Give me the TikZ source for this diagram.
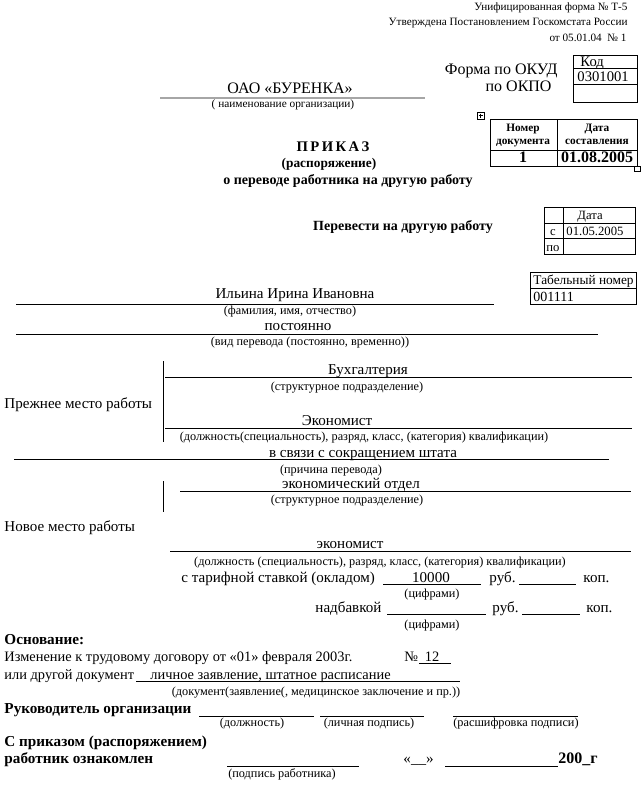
\documentclass[tikz,border=0pt]{standalone}
\usepackage{fontspec}
\setmainfont{Liberation Serif}

\begin{document}
\begin{tikzpicture}[x=0.75pt, y=-0.75pt, line width=0.7pt,
	every node/.style={inner sep=0pt},
	txt/.style={font=\fontsize{11.3}{13}\selectfont},
	capt/.style={font=\fontsize{9.2}{11}\selectfont},
	hdr/.style={font=\fontsize{8.4}{10}\selectfont, anchor=base east},
	bld/.style={font=\bfseries\fontsize{11.4}{13}\selectfont},
	tbl/.style={font=\fontsize{9.5}{11}\selectfont}]

		\useasboundingbox (0,0) rectangle (640,785);

		% top right
		\node[hdr] (form) at (628,11) {Унифицированная форма № Т-5};
		\node[hdr] (appr) at (628,25) {Утверждена Постановлением Госкомстата России};
		\node[hdr] (appr2) at (627,41) {от 05.01.04 \ № 1};

		\node[txt, font=\fontsize{12}{14}\selectfont, anchor=base east] (okud) at (558,74) {Форма по ОКУД};
		\node[txt, font=\fontsize{12}{14}\selectfont, anchor=base east] (okpo) at (552,91) {по ОКПО};
		\draw (573,55) rectangle (637,102);
		\draw (573,68) -- (637,68);
		\draw (573,84) -- (637,84);
		\node[txt, font=\fontsize{11}{13}\selectfont, anchor=base west] (kod) at (580,66) {Код};
		\node[txt, font=\fontsize{11}{13}\selectfont, anchor=base west] (kodVal) at (577,81) {0301001};

		\node[txt, font=\fontsize{12}{14}\selectfont, anchor=base] (org) at (290,93) {ОАО «БУРЕНКА»};
		\draw[gray!70, line width=1.2pt] (160,98) -- (425,98);
		\node[capt, font=\fontsize{8.5}{10}\selectfont, anchor=base] (orgCap) at (283,107) {( наименование организации)};

		% document number table
		\draw[line width=0.5pt] (477,112) rectangle (484,119);
		\draw[line width=0.4pt] (480.5,113.5) -- (480.5,117.5) (478.5,115.5) -- (482.5,115.5);
		\draw (490,119) rectangle (637,166);
		\draw (557,119) -- (557,166);
		\draw (490,150) -- (637,150);
		\draw[line width=0.5pt] (634,166) rectangle (640,171);
		\node[bld, font=\bfseries\fontsize{8.5}{10}\selectfont, anchor=base] (numA) at (523,131) {Номер};
		\node[bld, font=\bfseries\fontsize{8.5}{10}\selectfont, anchor=base] (numB) at (523,144) {документа};
		\node[bld, font=\bfseries\fontsize{8.5}{10}\selectfont, anchor=base] (datA) at (597,131) {Дата};
		\node[bld, font=\bfseries\fontsize{8.5}{10}\selectfont, anchor=base] (datB) at (597,144) {составления};
		\node[bld, font=\bfseries\fontsize{12}{14}\selectfont, anchor=base] (numVal) at (523,162) {1};
		\node[bld, font=\bfseries\fontsize{12}{14}\selectfont, anchor=base] (datVal) at (597,162) {01.08.2005};

		\node[bld, font=\bfseries\fontsize{11}{13}\selectfont, anchor=base] (prikaz) at (333,151) {П\,Р\,И\,К\,А\,З};
		\node[bld, font=\bfseries\fontsize{10}{12}\selectfont, anchor=base] (rasp) at (329,167) {(распоряжение)};
		\node[bld, font=\bfseries\fontsize{10.5}{12}\selectfont, anchor=base] (title) at (348,184) {о переводе работника на другую работу};

		\node[bld, font=\bfseries\fontsize{10.5}{12}\selectfont, anchor=base] (perev) at (403,230) {Перевести на другую работу};

		% dates
		\draw (544,207) rectangle (635,254);
		\draw (563,207) -- (563,254);
		\draw (544,223) -- (635,223);
		\draw (544,238) -- (635,238);
		\node[tbl, anchor=base west] (dHead) at (577,219) {Дата};
		\node[tbl, anchor=base] (dFrom) at (553,235) {с};
		\node[tbl, anchor=base west] (dFromVal) at (566,235) {01.05.2005};
		\node[tbl, anchor=base] (dTo) at (553,251) {по};

		\draw (530,272) rectangle (636,304);
		\draw (530,288) -- (636,288);
		\node[txt, font=\fontsize{10}{12}\selectfont, anchor=base west] (tab) at (533,284) {Табельный номер};
		\node[txt, font=\fontsize{10.5}{12}\selectfont, anchor=base west] (tabVal) at (533,301) {001111};

		% employee
		\node[txt, anchor=base] (fio) at (295,298) {Ильина Ирина Ивановна};
		\draw (16,304) -- (494,304);
		\node[capt, anchor=base] (fioCap) at (290,314) {(фамилия, имя, отчество)};

		\node[txt, anchor=base] (kind) at (298,330) {постоянно};
		\draw (16,334) -- (598,334);
		\node[capt, anchor=base] (kindCap) at (310,345) {(вид перевода (постоянно, временно))};

		% old place
		\draw (163,361) -- (163,442);
		\node[txt, anchor=base west] (oldPlace) at (4,408) {Прежнее место работы};
		\node[txt, anchor=base] (oldDep) at (368,374) {Бухгалтерия};
		\draw (165,377) -- (632,377);
		\node[capt, anchor=base] (oldDepCap) at (347,390) {(структурное подразделение)};
		\node[txt, anchor=base] (oldPos) at (337,425) {Экономист};
		\draw (165,428) -- (632,428);
		\node[capt, anchor=base] (oldPosCap) at (364,440) {(должность(специальность), разряд, класс, (категория) квалификации)};

		\node[txt, anchor=base] (reason) at (363,457) {в связи с сокращением штата};
		\draw (14,459) -- (609,459);
		\node[capt, anchor=base] (reasonCap) at (331,473) {(причина перевода)};

		% new place
		\draw (163,481) -- (163,512);
		\node[txt, anchor=base] (newDep) at (351,488) {экономический отдел};
		\draw (180,491) -- (631,491);
		\node[capt, anchor=base] (newDepCap) at (347,503) {(структурное подразделение)};
		\node[txt, anchor=base west] (newPlace) at (4,531) {Новое место работы};
		\node[txt, anchor=base] (newPos) at (350,548) {экономист};
		\draw (170,551) -- (631,551);
		\node[capt, anchor=base] (newPosCap) at (380,565) {(должность (специальность), разряд, класс, (категория) квалификации)};

		% salary
		\node[txt, anchor=base west] (rate) at (181,582) {с тарифной ставкой (окладом)};
		\draw (383,584) -- (481,584);
		\node[txt, anchor=base] (rateVal) at (431,582) {10000};
		\node[txt, anchor=base west] (rub1) at (489,582) {руб.};
		\draw (519,584) -- (576,584);
		\node[txt, anchor=base west] (kop1) at (583,582) {коп.};
		\node[capt, anchor=base] (rateCap) at (432,597) {(цифрами)};

		\node[txt, anchor=base west] (bonus) at (315,612) {надбавкой};
		\draw (387,614) -- (486,614);
		\node[txt, anchor=base west] (rub2) at (492,612) {руб.};
		\draw (522,614) -- (580,614);
		\node[txt, anchor=base west] (kop2) at (586,612) {коп.};
		\node[capt, anchor=base] (bonusCap) at (432,628) {(цифрами)};

		% basis
		\node[bld, anchor=base west] (basis) at (4,644) {Основание:};
		\node[txt, font=\fontsize{10.8}{13}\selectfont, anchor=base west] (contract) at (4,661) {Изменение к трудовому договору от «01» февраля 2003г.};
		\node[txt, font=\fontsize{10.8}{13}\selectfont, anchor=base west] (no) at (404,661) {№};
		\draw (419,663) -- (451,663);
		\node[txt, font=\fontsize{10.8}{13}\selectfont, anchor=base] (noVal) at (432,661) {12};
		\node[txt, font=\fontsize{10.8}{13}\selectfont, anchor=base west] (other) at (4,679) {или другой документ};
		\draw (136,681) -- (460,681);
		\node[txt, font=\fontsize{10.8}{13}\selectfont, anchor=base west] (otherVal) at (150,679) {личное заявление, штатное расписание};
		\node[capt, anchor=base] (otherCap) at (316,695) {(документ(заявление(, медицинское заключение и пр.))};

		% signatures
		\node[bld, anchor=base west] (head) at (4,713) {Руководитель организации};
		\draw (199,716) -- (314,716);
		\draw (320,716) -- (424,716);
		\draw (453,716) -- (578,716);
		\node[capt, anchor=base] (posCap) at (252,726) {(должность)};
		\node[capt, anchor=base] (signCap) at (369,726) {(личная подпись)};
		\node[capt, anchor=base] (nameCap) at (516,726) {(расшифровка подписи)};

		\node[bld, anchor=base west] (ack) at (4,746) {С приказом (распоряжением)};
		\node[bld, anchor=base west] (ack2) at (4,763) {работник ознакомлен};
		\draw (227,766) -- (359,766);
		\node[txt, anchor=base west] (day) at (403,763) {«\_\_»};
		\draw (445,766) -- (558,766);
		\node[bld, font=\bfseries\fontsize{12}{14}\selectfont, anchor=base west] (year) at (558,763) {200\_г};
		\node[capt, anchor=base] (workerCap) at (282,777) {(подпись работника)};

\end{tikzpicture}
\end{document}
